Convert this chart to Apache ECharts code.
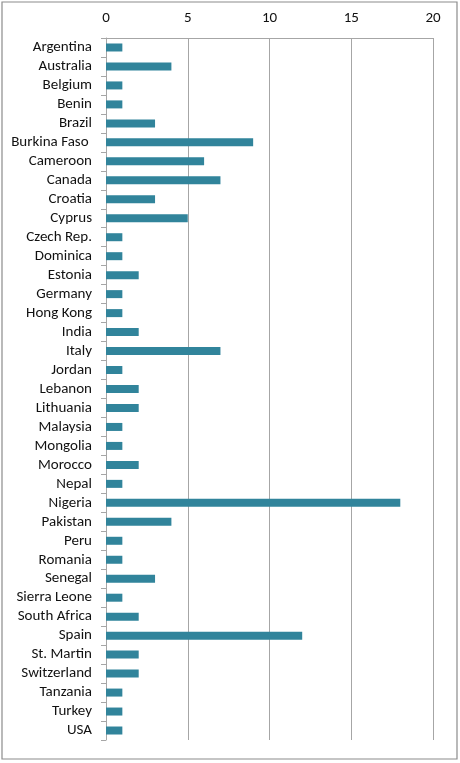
<!DOCTYPE html>
<html>
<head>
<meta charset="utf-8">
<script src="https://cdn.jsdelivr.net/npm/echarts@6/dist/echarts.min.js"></script>
<style>
html,body{margin:0;padding:0;background:#fff;}
#c{width:460px;height:763px;}
</style>
</head>
<body>
<div id="c"></div>
<script>
const categories = ["Argentina","Australia","Belgium","Benin","Brazil","Burkina Faso ","Cameroon","Canada","Croatia","Cyprus","Czech Rep.","Dominica","Estonia","Germany","Hong Kong","India","Italy","Jordan","Lebanon","Lithuania","Malaysia","Mongolia","Morocco","Nepal","Nigeria","Pakistan","Peru","Romania","Senegal","Sierra Leone","South Africa","Spain","St. Martin","Switzerland","Tanzania","Turkey","USA"];
const values = [1,4,1,1,3,9,6,7,3,5,1,1,2,1,1,2,7,1,2,2,1,1,2,1,18,4,1,1,3,1,2,12,2,2,1,1,1];
const xTicks = {min:0, max:20, interval:5};

const chart = echarts.init(document.getElementById('c'), null, {renderer:'canvas'});
const font = "Carlito, 'Liberation Sans', 'Open Sans', sans-serif";
chart.setOption({
  animation:false,
  backgroundColor:'#ffffff',
  graphic:[{
    type:'rect', shape:{x:2, y:2, width:455, height:757},
    style:{fill:'none', stroke:'#8c8c8c', lineWidth:1.2}, silent:true, z:-1
  }],
  grid:{left:106, right:27, top:38, bottom:23, containLabel:false},
  xAxis:{
    type:'value', position:'top', min:xTicks.min, max:xTicks.max, interval:xTicks.interval,
    axisLine:{show:true, lineStyle:{color:'#a6a6a6', width:1}},
    axisTick:{show:false},
    axisLabel:{color:'#111', fontSize:15, fontFamily:font, margin:12},
    splitLine:{show:true, lineStyle:{color:'#a6a6a6', width:1}}
  },
  yAxis:{
    type:'category', data:categories, inverse:true,
    axisLine:{show:true, lineStyle:{color:'#a6a6a6', width:1}},
    axisTick:{show:true, length:5, lineStyle:{color:'#a6a6a6'}},
    axisLabel:{color:'#111', fontSize:15, fontFamily:font, margin:14, interval:0},
    splitLine:{show:false}
  },
  series:[{
    type:'bar', data:values, barWidth:8,
    itemStyle:{color:'#31849B'}
  }]
});
</script>
</body>
</html>
